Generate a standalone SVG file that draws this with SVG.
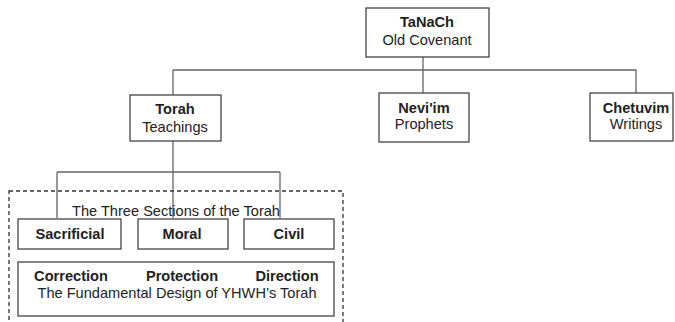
<svg xmlns="http://www.w3.org/2000/svg" width="675" height="322" viewBox="0 0 675 322">
<style>
.box{fill:#fff;stroke:#444;stroke-width:1.3}
.ln{fill:none;stroke:#666;stroke-width:1.3}
text{font-family:"Liberation Sans",Arial,sans-serif;font-size:14.6px;fill:#222;text-anchor:middle}
.b{font-weight:bold}
</style>
<rect width="675" height="322" fill="#fff"/>
<g id="connectors">
<path class="ln" d="M423 57V93M173 70H636V93M173 70V95M173 141V218M57 172H280M57 172V218M280 172V218"/>
</g>
<rect x="9" y="191" width="334" height="140" fill="none" stroke="#333" stroke-width="1.3" stroke-dasharray="4,3"/>
<g id="tanach"><rect class="box" x="366" y="8" width="123" height="49"/><text class="b" x="427" y="27">TaNaCh</text><text x="427" y="45">Old Covenant</text></g>
<g id="torah"><rect class="box" x="130" y="95" width="91" height="46"/><text class="b" x="175" y="114">Torah</text><text x="175" y="132">Teachings</text></g>
<g id="neviim"><rect class="box" x="379" y="93" width="90" height="49"/><text class="b" x="424" y="113">Nevi'im</text><text x="424" y="129">Prophets</text></g>
<g id="chetuvim"><rect class="box" x="590" y="93" width="83" height="48"/><text class="b" x="636" y="113">Chetuvim</text><text x="636" y="129">Writings</text></g>
<text x="176" y="216">The Three Sections of the Torah</text>
<g id="sacrificial"><rect class="box" x="18" y="219" width="103" height="30"/><text class="b" x="70" y="239">Sacrificial</text></g>
<g id="moral"><rect class="box" x="138" y="219" width="90" height="30"/><text class="b" x="182" y="239">Moral</text></g>
<g id="civil"><rect class="box" x="244" y="219" width="90" height="30"/><text class="b" x="289" y="239">Civil</text></g>
<g id="design"><rect class="box" x="18" y="262" width="316" height="54"/><text class="b" x="71" y="281">Correction</text><text class="b" x="182" y="281">Protection</text><text class="b" x="287" y="281">Direction</text><text x="177" y="298">The Fundamental Design of YHWH’s Torah</text></g>
</svg>
